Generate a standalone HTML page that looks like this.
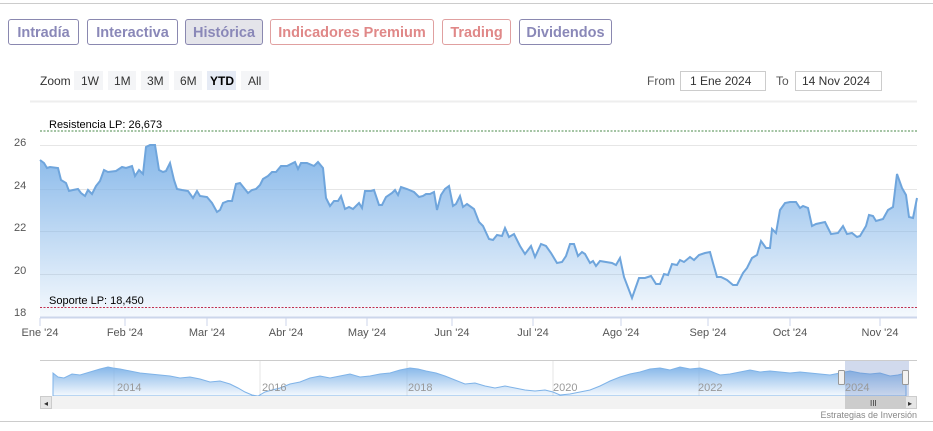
<!DOCTYPE html>
<html><head><meta charset="utf-8"><style>
body{margin:0;width:933px;height:431px;background:#fff;font-family:"Liberation Sans",sans-serif;overflow:hidden;position:relative}
.b{position:absolute;top:19px;height:26px;border:1px solid #8a88b0;border-radius:3px;font-weight:bold;font-size:14.5px;line-height:26px;text-align:center;color:#8a88b8;box-sizing:border-box}
.r{border-color:#e0a0a0;color:#e08888}
</style></head><body>
<div style="position:absolute;left:0;top:3px;width:933px;height:1px;background:#ccc"></div>
<div class="b" style="left:8px;width:71px">Intradía</div>
<div class="b" style="left:87px;width:91px">Interactiva</div>
<div class="b" style="left:185px;width:78px;background:#e4e4ea">Histórica</div>
<div class="b r" style="left:270px;width:164px">Indicadores Premium</div>
<div class="b r" style="left:442px;width:69px">Trading</div>
<div class="b" style="left:519px;width:93px">Dividendos</div>
<svg width="933" height="431" style="position:absolute;left:0;top:0" font-family="Liberation Sans, sans-serif">
<defs><linearGradient id="g" x1="0" y1="0" x2="0" y2="1"><stop offset="0" stop-color="#7fb3e8" stop-opacity="0.95"/><stop offset="1" stop-color="#7fb3e8" stop-opacity="0.08"/></linearGradient></defs>
<g font-size="12" fill="#333">
<text x="40" y="85">Zoom</text>
<rect x="74" y="71" width="29" height="19" fill="#f4f5f7"/><text x="81" y="85">1W</text>
<rect x="108" y="71" width="28" height="19" fill="#f4f5f7"/><text x="114" y="85">1M</text>
<rect x="141" y="71" width="28" height="19" fill="#f4f5f7"/><text x="147" y="85">3M</text>
<rect x="174" y="71" width="28" height="19" fill="#f4f5f7"/><text x="180" y="85">6M</text>
<rect x="207" y="71" width="29" height="19" fill="#e6ebf5"/><text x="210" y="85" font-weight="bold" fill="#000">YTD</text>
<rect x="241" y="71" width="28" height="19" fill="#f4f5f7"/><text x="248" y="85">All</text>
<text x="647" y="85" fill="#555">From</text>
<rect x="680.5" y="71.5" width="85" height="19" fill="#fff" stroke="#ccc"/><text x="690" y="85">1 Ene 2024</text>
<text x="776" y="85" fill="#555">To</text>
<rect x="795.5" y="71.5" width="86" height="19" fill="#fff" stroke="#ccc"/><text x="802" y="85">14 Nov 2024</text>
</g>
<line x1="30" y1="101.5" x2="917" y2="101.5" stroke="#eee" stroke-width="2"/>
<g stroke="#e6e6e6" stroke-width="1">
<line x1="40" y1="145.5" x2="917" y2="145.5"/><line x1="40" y1="189.5" x2="917" y2="189.5"/><line x1="40" y1="231.5" x2="917" y2="231.5"/><line x1="40" y1="274.5" x2="917" y2="274.5"/>
</g>
<path id="p" d="M40 160L44 163L47 168L50 167L58 168L61 180L66 183L69 191L73 190L78 189L81 193L85 196L88 190L92 194L96 186L100 181L104 170L108 172L116 171L122 167L126 168L132 166L135 176L139 170L143 174L146 147L150 145L155 145L159 170L163 172L166 171L170 163L174 180L177 189L182 190L188 191L193 198L197 191L200 196L207 197L212 203L217 212L220 210L223 203L228 201L232 201L236 184L240 183L244 188L248 193L252 190L256 189L260 185L263 179L268 176L272 172L276 172L281 166L287 166L295 162L298 169L301 163L307 163L314 166L318 162L323 168L326 198L330 206L334 201L338 201L341 196L345 209L349 207L353 209L359 203L362 208L365 191L371 191L374 190L379 205L382 205L386 197L392 193L395 190L398 195L401 187L407 189L414 192L419 197L423 196L426 194L430 194L434 192L437 210L441 195L445 189L449 186L453 206L456 204L460 196L463 207L467 204L474 209L479 222L483 226L489 239L493 240L497 235L502 236L505 228L509 237L514 234L520 246L525 254L531 246L535 257L541 244L546 246L551 253L557 263L562 262L566 256L570 244L574 244L578 256L582 252L585 254L590 263L593 261L596 266L600 261L606 262L612 263L616 265L620 258L624 277L632 298L639 278L645 278L651 276L656 284L660 284L664 274L668 275L672 264L677 265L680 260L684 262L690 257L694 260L699 255L705 253L710 252L713 263L717 277L721 277L727 280L733 285L737 285L743 273L747 268L752 258L757 255L761 241L766 248L770 248L772 229L776 233L780 210L785 203L790 202L796 202L800 208L803 206L808 208L812 226L816 224L825 222L831 234L838 233L843 226L847 234L852 233L857 237L860 236L866 226L869 215L873 216L876 221L883 219L888 210L893 207L897 174L902 188L906 195L909 217L913 218L917 198" fill="none"/>
<path d="M40 160L44 163L47 168L50 167L58 168L61 180L66 183L69 191L73 190L78 189L81 193L85 196L88 190L92 194L96 186L100 181L104 170L108 172L116 171L122 167L126 168L132 166L135 176L139 170L143 174L146 147L150 145L155 145L159 170L163 172L166 171L170 163L174 180L177 189L182 190L188 191L193 198L197 191L200 196L207 197L212 203L217 212L220 210L223 203L228 201L232 201L236 184L240 183L244 188L248 193L252 190L256 189L260 185L263 179L268 176L272 172L276 172L281 166L287 166L295 162L298 169L301 163L307 163L314 166L318 162L323 168L326 198L330 206L334 201L338 201L341 196L345 209L349 207L353 209L359 203L362 208L365 191L371 191L374 190L379 205L382 205L386 197L392 193L395 190L398 195L401 187L407 189L414 192L419 197L423 196L426 194L430 194L434 192L437 210L441 195L445 189L449 186L453 206L456 204L460 196L463 207L467 204L474 209L479 222L483 226L489 239L493 240L497 235L502 236L505 228L509 237L514 234L520 246L525 254L531 246L535 257L541 244L546 246L551 253L557 263L562 262L566 256L570 244L574 244L578 256L582 252L585 254L590 263L593 261L596 266L600 261L606 262L612 263L616 265L620 258L624 277L632 298L639 278L645 278L651 276L656 284L660 284L664 274L668 275L672 264L677 265L680 260L684 262L690 257L694 260L699 255L705 253L710 252L713 263L717 277L721 277L727 280L733 285L737 285L743 273L747 268L752 258L757 255L761 241L766 248L770 248L772 229L776 233L780 210L785 203L790 202L796 202L800 208L803 206L808 208L812 226L816 224L825 222L831 234L838 233L843 226L847 234L852 233L857 237L860 236L866 226L869 215L873 216L876 221L883 219L888 210L893 207L897 174L902 188L906 195L909 217L913 218L917 198L917 317L40 317Z" fill="url(#g)"/>
<use href="#p" stroke="#6fa5dc" stroke-width="2"/>
<line x1="40" y1="131" x2="917" y2="131" stroke="#4a8a4a" stroke-dasharray="2,1.5"/>
<line x1="40" y1="307.5" x2="917" y2="307.5" stroke="#c03050" stroke-dasharray="2,1.5"/>
<line x1="40" y1="317.5" x2="917" y2="317.5" stroke="#ccd6eb" stroke-width="2"/>
<g font-size="11" fill="#000"><text x="49" y="128">Resistencia LP: 26,673</text><text x="49" y="304">Soporte LP: 18,450</text></g>
<g font-size="11" fill="#555"><text x="14" y="146">26</text><text x="14" y="189">24</text><text x="14" y="231">22</text><text x="14" y="274">20</text><text x="14" y="316">18</text></g>
<g font-size="11" fill="#555" text-anchor="middle">
<text x="40" y="336">Ene '24</text><text x="125" y="336">Feb '24</text><text x="207" y="336">Mar '24</text><text x="286" y="336">Abr '24</text><text x="367" y="336">May '24</text><text x="452" y="336">Jun '24</text><text x="533" y="336">Jul '24</text><text x="621" y="336">Ago '24</text><text x="708" y="336">Sep '24</text><text x="790" y="336">Oct '24</text><text x="880" y="336">Nov '24</text>
</g>
<g stroke="#ccd6eb"><line x1="40" y1="318" x2="40" y2="326"/><line x1="125" y1="318" x2="125" y2="326"/><line x1="207" y1="318" x2="207" y2="326"/><line x1="286" y1="318" x2="286" y2="326"/><line x1="367" y1="318" x2="367" y2="326"/><line x1="452" y1="318" x2="452" y2="326"/><line x1="533" y1="318" x2="533" y2="326"/><line x1="621" y1="318" x2="621" y2="326"/><line x1="708" y1="318" x2="708" y2="326"/><line x1="790" y1="318" x2="790" y2="326"/><line x1="880" y1="318" x2="880" y2="326"/></g>
<line x1="40" y1="360.5" x2="917" y2="360.5" stroke="#ccc"/>
<g stroke="#e6e6e6"><line x1="114" y1="361" x2="114" y2="396"/><line x1="260" y1="361" x2="260" y2="396"/><line x1="407" y1="361" x2="407" y2="396"/><line x1="553" y1="361" x2="553" y2="396"/><line x1="699" y1="361" x2="699" y2="396"/></g>
<path d="M53 373L58 377L64 378L72 374L80 375L90 372L100 369L108 367L113 368L120 369L130 371L140 373L150 374L160 375L170 376L180 378L190 377L200 379L210 382L220 381L230 384L238 388L245 392L252 395L258 396L265 392L272 390L280 388L290 384L300 382L310 378L320 376L330 378L340 376L350 374L360 377L370 376L380 374L390 373L400 370L410 368L418 369L426 371L436 373L445 376L455 380L465 384L475 383L485 386L495 388L505 386L515 388L525 390L535 391L545 390L553 392L560 395L570 394L580 392L590 390L600 386L610 381L620 377L630 374L640 372L650 369L660 368L670 370L680 367L690 369L700 368L710 371L720 375L730 374L740 372L750 370L760 372L770 371L780 372L790 373L800 372L810 373L820 374L830 375L840 373L850 371L860 373L870 374L880 373L890 376L898 375L906 373L906 396L53 396Z" fill="url(#g)" stroke="#7fb3e8" stroke-width="1"/>
<rect x="845" y="361" width="64" height="35" fill="#6685c2" fill-opacity="0.3"/>
<rect x="838.5" y="370.5" width="6" height="14" rx="1" fill="#f2f2f2" stroke="#999"/>
<rect x="902.5" y="370.5" width="6" height="14" rx="1" fill="#f2f2f2" stroke="#999"/>
<g font-size="11" fill="#999"><text x="117" y="391">2014</text><text x="262" y="391">2016</text><text x="408" y="391">2018</text><text x="553" y="391">2020</text><text x="698" y="391">2022</text><text x="845" y="391">2024</text></g>
<rect x="40" y="396" width="877" height="13" fill="#f2f2f2"/>
<rect x="40.5" y="396.5" width="11" height="12" fill="#e6e6e6" stroke="#ccc"/>
<rect x="905.5" y="396.5" width="11" height="12" fill="#e6e6e6" stroke="#ccc"/>
<rect x="845" y="396" width="60" height="13" fill="#ccc"/>
<text x="44" y="406" font-size="8" fill="#333">◂</text><text x="908" y="406" font-size="8" fill="#333">▸</text>
<text x="870" y="406" font-size="8" fill="#333">III</text>
<text x="917" y="418" font-size="9" fill="#888" text-anchor="end">Estrategias de Inversión</text>
<line x1="0" y1="421.5" x2="933" y2="421.5" stroke="#ccc"/>
</svg>
</body></html>
